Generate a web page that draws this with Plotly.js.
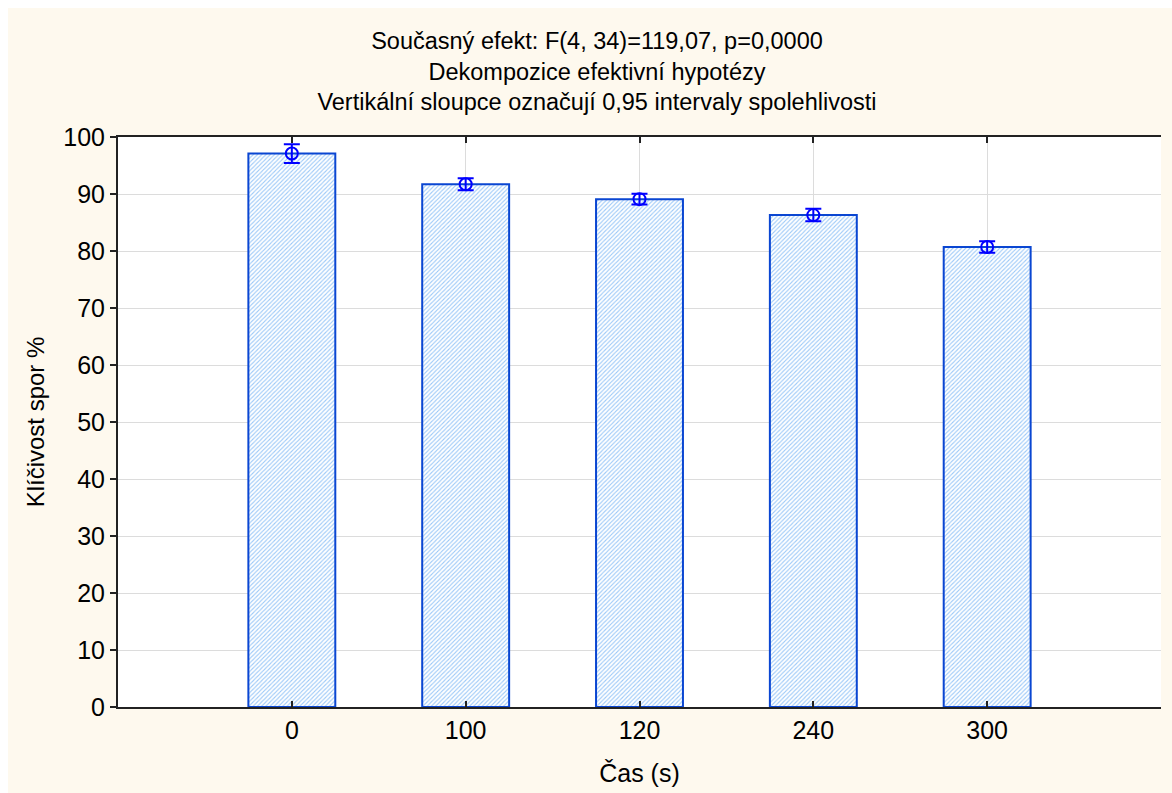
<!DOCTYPE html>
<html>
<head>
<meta charset="utf-8">
<script src="https://cdn.plot.ly/plotly-3.0.1.min.js"></script>
<style>
  html, body { margin: 0; padding: 0; background: #ffffff; }
  #chart { position: absolute; left: 8px; top: 8px; width: 1164px; height: 785px; }
</style>
</head>
<body>
<div id="chart"></div>
<script>
// Data
const categories = ['0', '100', '120', '240', '300'];
const means = [97.1, 91.7, 89.1, 86.3, 80.7];
const ci95 = [1.65, 1.05, 0.95, 1.1, 1.0];
const yTicks = [0, 10, 20, 30, 40, 50, 60, 70, 80, 90, 100];

const titleLines = [
  'Současný efekt: F(4, 34)=119,07, p=0,0000',
  'Dekompozice efektivní hypotézy',
  'Vertikální sloupce označují 0,95 intervaly spolehlivosti'
];
const xTitle = 'Čas (s)';
const yTitle = 'Klíčivost spor %';

const FONT = 'Liberation Sans, Arial, sans-serif';

const barTrace = {
  type: 'bar',
  x: categories,
  y: means,
  width: 0.5,
  marker: {
    color: '#ffffff',
    line: { color: '#0a46d2', width: 2 },
    pattern: { shape: '/', fgcolor: '#9cc9f8', bgcolor: '#ffffff', size: 3, solidity: 0.35 }
  },
  hoverinfo: 'x+y',
  showlegend: false
};

const meanTrace = {
  type: 'scatter',
  mode: 'markers',
  x: categories,
  y: means,
  marker: { symbol: 'circle-open', size: 12, color: '#0000ff', line: { color: '#0000ff', width: 2 } },
  error_y: { type: 'data', array: ci95, visible: true, color: '#0000ff', thickness: 2, width: 8 },
  showlegend: false
};

const layout = {
  width: 1164,
  height: 785,
  paper_bgcolor: '#fef9ee',
  plot_bgcolor: '#ffffff',
  margin: { l: 110, r: 11, t: 129, b: 86 },
  font: { family: FONT, size: 24, color: '#000000' },
  title: {
    text: titleLines.join('<br>'),
    x: 0.506,
    xanchor: 'center',
    y: 1 - 41 / 785,
    yanchor: 'top',
    font: { family: FONT, size: 23.5, color: '#000000' }
  },
  xaxis: {
    type: 'category',
    range: [-1, 5],
    showline: true,
    linecolor: '#222222',
    linewidth: 2,
    mirror: 'ticks',
    ticks: 'inside',
    ticklen: 6,
    tickwidth: 2,
    tickcolor: '#222222',
    showgrid: true,
    gridcolor: '#dcdcdc',
    gridwidth: 1,
    zeroline: false,
    tickfont: { family: FONT, size: 25, color: '#000000' },
    title: { text: xTitle, standoff: 21, font: { family: FONT, size: 25, color: '#000000' } }
  },
  yaxis: {
    range: [0, 100],
    tickvals: yTicks,
    ticktext: yTicks.map(String),
    showline: true,
    linecolor: '#222222',
    linewidth: 2,
    ticks: 'outside',
    ticklen: 6,
    tickwidth: 2,
    tickcolor: '#222222',
    showgrid: true,
    gridcolor: '#dcdcdc',
    gridwidth: 1,
    zeroline: false,
    tickfont: { family: FONT, size: 25, color: '#000000' },
    title: { text: yTitle, standoff: 12, font: { family: FONT, size: 24, color: '#000000' } }
  },
  yaxis2: {
    overlaying: 'y',
    side: 'right',
    range: [0, 100],
    tickvals: yTicks,
    showticklabels: false,
    showline: true,
    linecolor: '#222222',
    linewidth: 2,
    ticks: 'inside',
    ticklen: 5,
    tickwidth: 2,
    tickcolor: '#222222',
    showgrid: false,
    zeroline: false
  },
  bargap: 0.5
};

Plotly.newPlot('chart', [barTrace, meanTrace], layout, { displayModeBar: false, staticPlot: true });
</script>
</body>
</html>
